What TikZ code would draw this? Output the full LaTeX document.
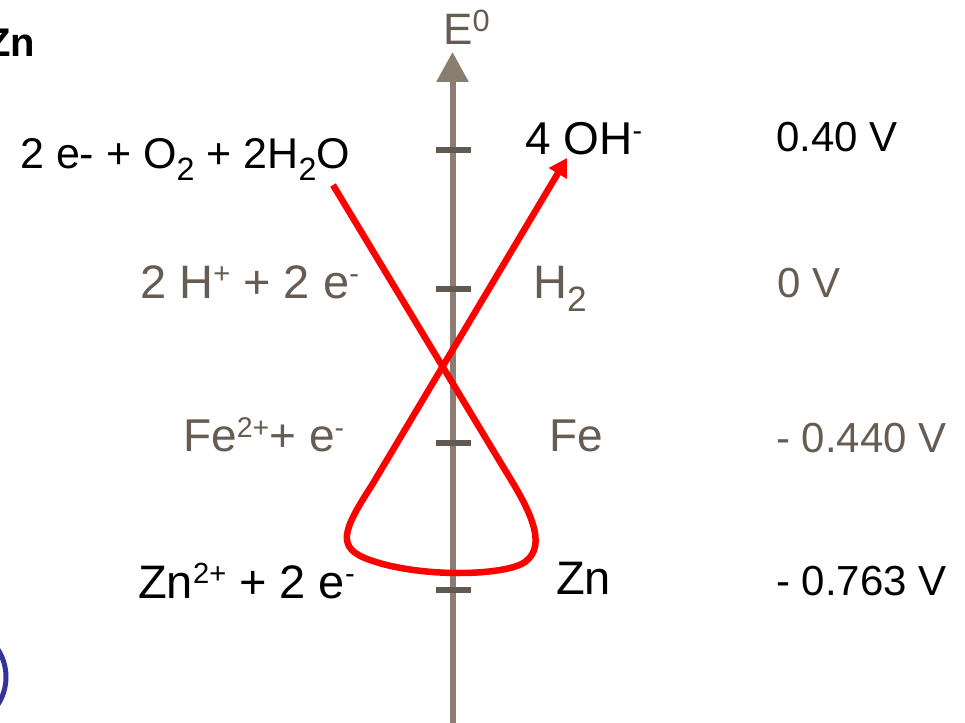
\documentclass[tikz,border=0pt]{standalone}
\usepackage{fontspec}
\setmainfont{Liberation Sans}
\usetikzlibrary{arrows.meta}
\definecolor{axisc}{RGB}{139,125,112}
\definecolor{tickc}{RGB}{98,90,80}
\definecolor{graytxt}{RGB}{102,92,82}
\definecolor{redc}{RGB}{255,0,0}
\definecolor{bluec}{RGB}{51,52,154}
\newcommand\spx[1]{\raisebox{0.3em}{\scalebox{0.62}{#1}}}
\newcommand\sbx[1]{\raisebox{-0.28em}{\scalebox{0.75}{#1}}}
\tikzset{
  lbl/.style={inner sep=0pt, anchor=base west},
  fs/.style={font=\fontsize{#1}{#1}\selectfont},
  grey/.style={text=graytxt},
  ticks/.style={draw=tickc, line width=6pt},
}
\begin{document}
\begin{tikzpicture}[x=1pt,y=-1pt]
\useasboundingbox (0,0) rectangle (965,722);
% axis
\coordinate (abot) at (452.5,730);
\coordinate (atop) at (452.5,52);
\draw[axisc, line width=6pt, -{Triangle[length=30pt,width=31pt]}] (abot) -- (atop);
\node[lbl, fs=44, grey] (E) at (443,45) {E\raisebox{0.3em}{\scalebox{0.7}{0}}};
% ticks
\foreach \yy/\nm in {150/t1,289/t2,443/t3,590/t4}{
  \coordinate (\nm a) at (436,\yy);
  \coordinate (\nm b) at (471,\yy);
  \draw[ticks] (\nm a) -- (\nm b);
}
% top-left
\node[lbl, font=\fontsize{40}{40}\selectfont\bfseries] (zn) at (-14,57) {Zn};
\draw[bluec, line width=5pt] (-45,677) circle (51pt);
% left labels
\node[lbl, fs=43] (l1) at (20,168) {2 e- + O\sbx{2} + 2H\sbx{2}O};
\node[lbl, fs=47, grey] (l2) at (140,298) {2 H\spx{+} + 2 e\spx{-}};
\node[lbl, fs=46, grey] (l3) at (183,451) {Fe\spx{2+}+ e\spx{-}};
\node[lbl, fs=47] (l4) at (138,598) {Zn\spx{2+} + 2 e\spx{-}};
% right labels
\node[lbl, fs=46] (r1) at (525,154) {4 OH\spx{-}};
\node[lbl, fs=47, grey] (r2) at (533,298) {H\sbx{2}};
\node[lbl, fs=46, grey] (r3) at (549,451) {Fe};
\node[lbl, fs=47] (r4) at (556,594) {Zn};
% values
\node[lbl, fs=42] (v1) at (776,152) {0.40 V};
\node[lbl, fs=42, grey] (v2) at (777,297) {0 V};
\node[lbl, fs=42, grey] (v3) at (776,452) {- 0.440 V};
\node[lbl, fs=42] (v4) at (776,595) {- 0.763 V};
% red path
\coordinate (rs) at (333,185);
\coordinate (re) at (567,158);
\draw[redc, line width=6.5pt, line join=round, -{Triangle[length=18pt,width=20pt]}]
  (rs) -- (505,470) .. controls (530,510) and (548,545) .. (525,562)
  .. controls (505,576) and (420,578) .. (370,560)
  .. controls (335,548) and (343,530) .. (372,485) -- (re);
\end{tikzpicture}
\end{document}
